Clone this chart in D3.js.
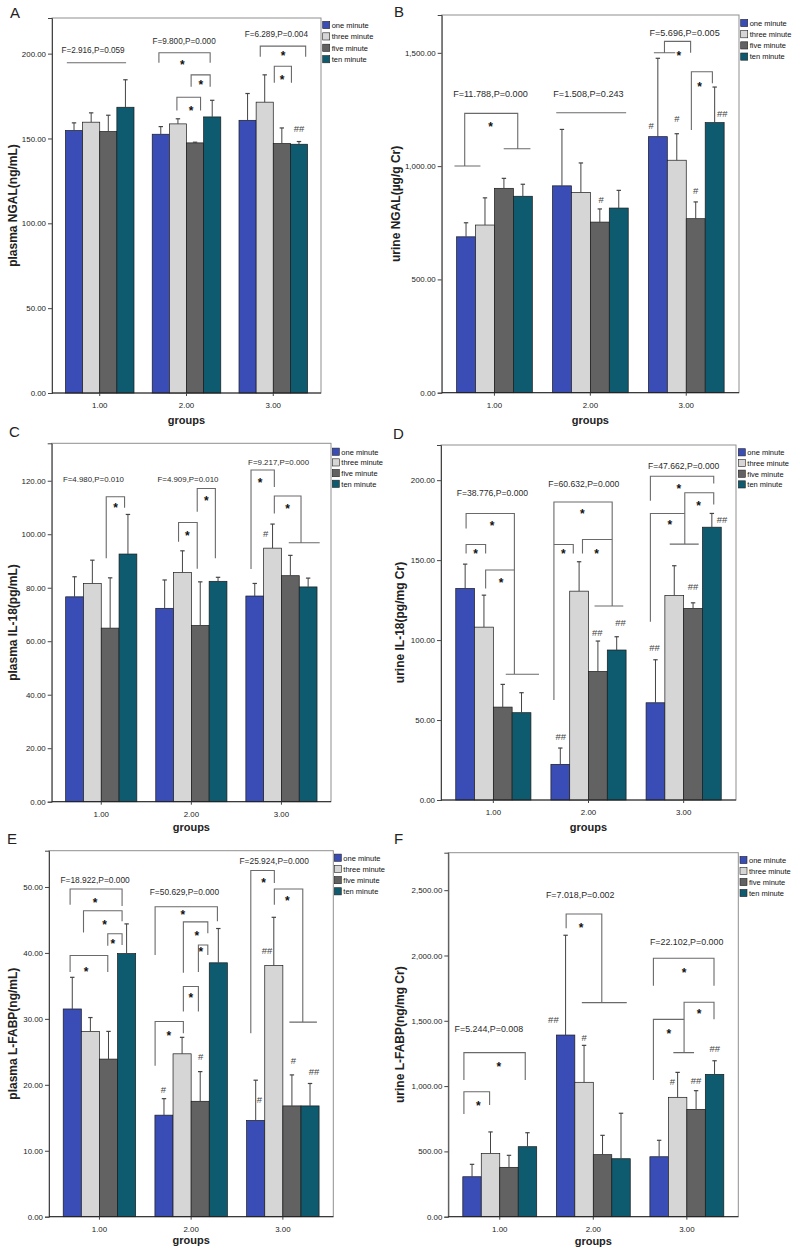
<!DOCTYPE html>
<html><head><meta charset="utf-8">
<script src="https://cdn.jsdelivr.net/npm/d3@7"></script>
<style>body{margin:0;background:#fff}svg{display:block;font-family:Arial,'Liberation Sans',sans-serif}</style>
</head><body><svg id="chart" width="800" height="1253"></svg>
<script>
// ---------- shared categories ----------
const groups = ["1.00", "2.00", "3.00"];
const seriesNames = ["one minute", "three minute", "five minute", "ten minute"];
const seriesColors = ["#3a4db6", "#d6d6d6", "#626262", "#0e5a6f"];

// ---------- A: plasma NGAL ----------
const aMean  = [[154.7,159.6,154.1,168.4],[152.5,158.6,147.4,162.7],[160.7,171.4,147.0,146.6]];
const aUpper = [[159.2,165.1,163.7,184.6],[157.0,161.6,147.8,172.5],[176.5,187.5,156.2,148.2]];
const aTicks = [0,50,100,150,200];
const aDomain = [0,221];
const aStats = [{g:0,b:1.11,v:201.9,t:"F=2.916,P=0.059"},{g:1,b:1.36,v:207.4,t:"F=9.800,P=0.000"},{g:2,b:1.68,v:211.7,t:"F=6.289,P=0.004"}];
const aBrackets = [
 {g:0,b1:-0.42,b2:3.04,top:194.6,l:194.6,r:194.6},
 {g:1,b1:-0.11,b2:2.88,top:200.5,l:194.6,r:194.6},
 {g:1,b1:1.77,b2:2.88,top:187.5,l:180.5,r:180.5},
 {g:1,b1:0.94,b2:2.32,top:174.3,l:166.5,r:166.5},
 {g:2,b1:0.74,b2:3.39,top:204.4,l:198.2,r:198.2},
 {g:2,b1:1.56,b2:2.56,top:192.6,l:182.8,r:182.8}];
const aStars = [{g:1,b:1.25,v:194.6},{g:1,b:2.34,v:183.2},{g:1,b:1.77,v:167.6},{g:2,b:2.07,v:200.1},{g:2,b:2.01,v:186.1}];
const aHashes = [{g:2,b:3,v:155.8,t:"##"}];

// ---------- B: urine NGAL ----------
const bMean  = [[688,740,902,867],[913,884,753,815],[1130,1026,768,1192]];
const bUpper = [[750,860,946,920],[1162,1014,811,893],[1476,1143,842,1349]];
const bTicks = [0,500,1000,1500];
const bDomain = [0,1667];
const bStats = [{g:0,b:1.29,v:1321,t:"F=11.788,P=0.000"},{g:1,b:1.40,v:1321,t:"F=1.508,P=0.243"},{g:2,b:1.41,v:1590,t:"F=5.696,P=0.005"}];
const bBrackets = [
 {g:0,b1:-0.07,b2:2.73,top:1233,l:1000.4,r:1076.8,lh:[-0.61,0.76],rh:[1.99,3.40]},
 {g:1,b1:-0.30,b2:3.39,top:1235.7,l:1235.7,r:1235.7},
 {g:2,b1:0.35,b2:1.73,top:1550.8,l:1500.4,r:1500.4,lh:[-0.21,0.92]},
 {g:2,b1:1.77,b2:2.88,top:1416.6,l:1159.3,r:1365.4}];
const bStars = [{g:0,b:1.29,v:1184.5},{g:2,b:1.11,v:1497.8},{g:2,b:2.20,v:1361}];
const bHashes = [{g:1,b:2.07,v:850,t:"#"},{g:2,b:-0.35,v:1177,t:"#"},{g:2,b:1.0,v:1208,t:"#"},{g:2,b:2.0,v:891,t:"#"},{g:2,b:3.40,v:1230,t:"##"}];

// ---------- C: plasma IL-18 ----------
const cMean  = [[76.6,81.6,64.9,92.6],[72.3,85.7,65.9,82.4],[76.9,94.8,84.5,80.3]];
const cUpper = [[84.1,90.3,83.7,107.4],[82.9,93.8,82.2,83.9],[81.6,103.8,92.1,83.6]];
const cTicks = [0,20,40,60,80,100,120];
const cDomain = [0,134];
const cStats = [{g:0,b:1.06,v:120.6,t:"F=4.980,P=0.010"},{g:1,b:1.31,v:120.6,t:"F=4.909,P=0.010"},{g:2,b:1.34,v:127.1,t:"F=9.217,P=0.000"}];
const cBrackets = [
 {g:0,b1:1.78,b2:2.81,top:114.0,l:91.0,r:109.9},
 {g:1,b1:0.78,b2:1.83,top:104.4,l:97.2,r:87.1},
 {g:1,b1:1.83,b2:2.85,top:117.1,l:108.4,r:91.0},
 {g:2,b1:-0.21,b2:1.10,top:124.0,l:87.0,r:117.7},
 {g:2,b1:1.10,b2:2.60,top:114.3,l:107.8,r:96.8,rh:[1.91,3.65]}];
const cStars = [{g:0,b:2.30,v:110.6},{g:1,b:1.27,v:100.3},{g:1,b:2.34,v:113.3},{g:2,b:0.30,v:120.3},{g:2,b:1.85,v:110.5}];
const cHashes = [{g:2,b:0.61,v:100.3,t:"#"}];

// ---------- D: urine IL-18 ----------
const dMean  = [[132.3,108.1,58.1,54.6],[22.3,130.6,80.4,93.8],[60.8,127.9,119.8,170.6]];
const dUpper = [[147.5,128.1,72.3,67.1],[32.5,149.0,99.4,102.1],[87.7,146.5,123.3,179.2]];
const dTicks = [0,50,100,150,200];
const dDomain = [0,222];
const dStats = [{g:0,b:1.45,v:192.1,t:"F=38.776,P=0.000"},{g:1,b:1.25,v:197.5,t:"F=60.632,P=0.000"},{g:2,b:1.50,v:208.8,t:"F=47.662,P=0.000"}];
const dBrackets = [
 {g:0,b1:0.05,b2:2.62,top:179.2,l:169.8,r:78.6,rh:[2.16,3.93]},
 {g:0,b1:0.05,b2:1.09,top:159.8,l:154.2,r:154.2},
 {g:0,b1:1.09,b2:2.62,top:143.8,l:132.3,r:null},
 {g:1,b1:-0.34,b2:2.76,top:186.4,l:62.5,r:121.3,rh:[1.82,3.35]},
 {g:1,b1:-0.34,b2:0.69,top:159.8,l:null,r:154.2},
 {g:1,b1:1.18,b2:2.76,top:162.9,l:154.2,r:null},
 {g:2,b1:-0.27,b2:3.10,top:202.5,l:187.1,r:197.9},
 {g:2,b1:1.56,b2:3.10,top:192.1,l:160.0,r:184.8,lh:[0.76,2.30]},
 {g:2,b1:-0.27,b2:1.56,top:179.2,l:111.4,r:null}];
const dStars = [{g:0,b:1.43,v:172.9},{g:0,b:0.56,v:155.6},{g:0,b:1.91,v:137.5},{g:1,b:1.17,v:180.2},{g:1,b:0.16,v:155.6},{g:1,b:1.93,v:155.6},{g:2,b:1.24,v:196.4},{g:2,b:2.30,v:185.4},{g:2,b:0.76,v:173.3}];
const dHashes = [{g:1,b:0.02,v:39.6,t:"##"},{g:1,b:1.97,v:104.6,t:"##"},{g:1,b:3.20,v:111.1,t:"##"},{g:2,b:-0.05,v:95.2,t:"##"},{g:2,b:2.00,v:133.3,t:"##"},{g:2,b:3.54,v:175.4,t:"##"}];

// ---------- E: plasma L-FABP ----------
const eMean  = [[31.5,28.1,23.9,39.9],[15.4,24.7,17.5,38.5],[14.6,38.1,16.8,16.8]];
const eUpper = [[36.3,30.2,28.1,44.4],[17.9,27.2,22.0,43.7],[20.7,45.4,21.5,20.2]];
const eTicks = [0,10,20,30,40,50];
const eDomain = [0,55.5];
const eStats = [{g:0,b:1.26,v:51.0,t:"F=18.922,P=0.000"},{g:1,b:1.13,v:49.2,t:"F=50.629,P=0.000"},{g:2,b:1.02,v:54.0,t:"F=25.924,P=0.000"}];
const eBrackets = [
 {g:0,b1:-0.12,b2:2.75,top:49.7,l:47.3,r:47.1},
 {g:0,b1:0.62,b2:2.75,top:46.4,l:43.1,r:44.8},
 {g:0,b1:1.96,b2:2.75,top:42.9,l:41.1,r:41.2},
 {g:0,b1:-0.12,b2:1.96,top:39.6,l:37.1,r:37.1},
 {g:1,b1:-0.49,b2:2.95,top:47.0,l:39.7,r:44.8},
 {g:1,b1:1.07,b2:2.42,top:44.7,l:37.0,r:43.0},
 {g:1,b1:1.90,b2:2.42,top:41.2,l:37.1,r:39.7},
 {g:1,b1:1.07,b2:1.90,top:34.9,l:31.1,r:31.1},
 {g:1,b1:-0.49,b2:1.07,top:29.6,l:22.9,r:27.8},
 {g:2,b1:-0.27,b2:1.03,top:52.5,l:27.8,r:50.6},
 {g:2,b1:1.03,b2:2.60,top:49.7,l:47.3,r:29.5,rh:[1.86,3.38]}];
const eStars = [{g:0,b:1.26,v:47.95},{g:0,b:1.78,v:44.6},{g:0,b:2.24,v:41.7},{g:0,b:0.76,v:37.5},{g:1,b:1.04,v:46.2},{g:1,b:1.81,v:43.0},{g:1,b:2.03,v:40.5},{g:1,b:1.48,v:33.6},{g:1,b:0.27,v:27.8},{g:2,b:0.43,v:51.0},{g:2,b:1.75,v:48.2}];
const eHashes = [{g:1,b:-0.03,v:19.3,t:"#"},{g:1,b:2.03,v:24.3,t:"#"},{g:2,b:0.21,v:17.8,t:"#"},{g:2,b:0.62,v:40.3,t:"##"},{g:2,b:2.08,v:23.6,t:"#"},{g:2,b:3.22,v:22.0,t:"##"}];

// ---------- F: urine L-FABP ----------
const fMean  = [[306,485,378,536],[1391,1029,475,444],[459,914,822,1090]];
const fUpper = [[401,649,470,643],[2155,1312,623,792],[585,1105,965,1194]];
const fTicks = [0,500,1000,1500,2000,2500];
const fDomain = [0,2787];
const fStats = [{g:0,b:0.91,v:1435,t:"F=5.244,P=0.008"},{g:1,b:0.79,v:2463,t:"F=7.018,P=0.002"},{g:2,b:1.49,v:2101,t:"F=22.102,P=0.000"}];
const fBrackets = [
 {g:0,b1:-0.44,b2:2.88,top:1256,l:1047,r:1047},
 {g:0,b1:-0.44,b2:0.95,top:957,l:786,r:855},
 {g:1,b1:0.03,b2:1.96,top:2318,l:2208,r:1639,rh:[0.88,3.31]},
 {g:2,b1:-0.31,b2:2.97,top:1979,l:1769,r:1769},
 {g:2,b1:1.35,b2:2.97,top:1642,l:1256,r:1511,lh:[0.77,1.89]},
 {g:2,b1:-0.31,b2:1.35,top:1511,l:1047,r:null}];
const fStars = [{g:0,b:1.45,v:1167},{g:0,b:0.34,v:868},{g:1,b:0.84,v:2234},{g:2,b:1.35,v:1889},{g:2,b:2.16,v:1570},{g:2,b:0.53,v:1422}];
const fHashes = [{g:1,b:-0.66,v:1511,t:"##"},{g:1,b:1.0,v:1374,t:"#"},{g:2,b:0.72,v:1034,t:"#"},{g:2,b:2.0,v:1041,t:"##"},{g:2,b:3.01,v:1284,t:"##"}];

// ---------- layout (positions/styles only) ----------
const panels = [
 {letter:"A", title:"plasma NGAL(ng/mL)", mean:aMean, upper:aUpper, ticks:aTicks, domain:aDomain, stats:aStats, brackets:aBrackets, stars:aStars, hashes:aHashes,
  fr:[52,321,18,393], let:[10,18], tx:17, xty:424, lg:[322.7,25,11.4], sf:8.2},
 {letter:"B", title:"urine NGAL(µg/g Cr)", mean:bMean, upper:bUpper, ticks:bTicks, domain:bDomain, stats:bStats, brackets:bBrackets, stars:bStars, hashes:bHashes,
  fr:[441.7,739,15,392.7], let:[394,17], tx:399.5, xty:424, lg:[740.7,23,11.2], sf:9.1},
 {letter:"C", title:"plasma IL-18(pg/mL)", mean:cMean, upper:cUpper, ticks:cTicks, domain:cDomain, stats:cStats, brackets:cBrackets, stars:cStars, hashes:cHashes,
  fr:[51.7,331,443.3,801.7], let:[9,437], tx:17, xty:830.5, lg:[332.3,451.7,10.7], sf:7.9},
 {letter:"D", title:"urine IL-18(pg/mg Cr)", mean:dMean, upper:dUpper, ticks:dTicks, domain:dDomain, stats:dStats, brackets:dBrackets, stars:dStars, hashes:dHashes,
  fr:[441,736,445,800], let:[393,439], tx:403.5, xty:830.5, lg:[738.3,452.3,10.7], sf:8.6},
 {letter:"E", title:"plasma L-FABP(ng/mL)", mean:eMean, upper:eUpper, ticks:eTicks, domain:eDomain, stats:eStats, brackets:eBrackets, stars:eStars, hashes:eHashes,
  fr:[49,333.3,850.7,1216.7], let:[7,844], tx:17, xty:1244, lg:[334.3,857.7,11.2], sf:8.4},
 {letter:"F", title:"urine L-FABP(ng/mg Cr)", mean:fMean, upper:fUpper, ticks:fTicks, domain:fDomain, stats:fStats, brackets:fBrackets, stars:fStars, hashes:fHashes,
  fr:[448.3,738.3,852.7,1216.7], let:[394,844], tx:403.5, xty:1245, lg:[740,860,11], sf:8.9}
];

const svg = d3.select("#chart");
const fmt = d3.format(",.2f");

function drawPanel(p) {
  const [x0,x1,y0,y1] = p.fr;
  const g = svg.append("g");
  const x = d3.scaleBand().domain(groups).range([x0,x1]).paddingInner(0.21).paddingOuter(0.155);
  const xs = d3.scaleBand().domain(seriesNames).range([0, x.bandwidth()]);
  const y = d3.scaleLinear().domain(p.domain).range([y1,y0]);
  const bx = (gi,b) => x(groups[gi]) + xs.step()*(b+0.5);

  // frame
  g.append("rect").attr("x",x0).attr("y",y0).attr("width",x1-x0).attr("height",y1-y0)
    .attr("fill","#fff").attr("stroke","#8f8f8f").attr("stroke-width",1);

  // bars + error bars
  p.mean.forEach((row,gi) => {
    row.forEach((v,si) => {
      g.append("rect")
        .attr("x", x(groups[gi]) + xs(seriesNames[si]))
        .attr("y", y(v)).attr("width", xs.bandwidth()).attr("height", y(0)-y(v))
        .attr("fill", seriesColors[si]).attr("stroke","#1a1a1a").attr("stroke-width",0.7);
      const cx = x(groups[gi]) + xs(seriesNames[si]) + xs.bandwidth()/2;
      const up = p.upper[gi][si];
      g.append("line").attr("x1",cx).attr("x2",cx).attr("y1",y(v)).attr("y2",y(up))
        .attr("stroke","#444").attr("stroke-width",1);
      g.append("line").attr("x1",cx-2.2).attr("x2",cx+2.2).attr("y1",y(up)).attr("y2",y(up))
        .attr("stroke","#444").attr("stroke-width",1.2);
    });
  });

  // axes
  const ya = g.append("g").attr("transform",`translate(${x0},0)`)
    .call(d3.axisLeft(y).tickValues(p.ticks).tickFormat(fmt).tickSize(4).tickPadding(2));
  ya.select(".domain").attr("stroke","#444");
  ya.selectAll(".tick line").attr("stroke","#444");
  ya.selectAll("text").attr("font-size",7.9).attr("fill","#222").attr("font-family","Arial,'Liberation Sans',sans-serif");

  const xa = g.append("g").attr("transform",`translate(0,${y1})`)
    .call(d3.axisBottom(x).tickSize(3).tickPadding(6.8));
  xa.select(".domain").attr("stroke","#222").attr("d",`M${x0},0H${x1}`);
  xa.selectAll(".tick line").attr("stroke","#444");
  xa.selectAll("text").attr("font-size",7.9).attr("fill","#222").attr("font-family","Arial,'Liberation Sans',sans-serif");

  // titles
  g.append("text").attr("x",(x0+x1)/2).attr("y",p.xty).attr("text-anchor","middle")
    .attr("font-size",11).attr("font-weight","bold").attr("fill","#222").text("groups");
  g.append("text").attr("transform",`translate(${p.tx},${(y0+y1)/2}) rotate(-90)`)
    .attr("text-anchor","middle").attr("font-size",12).attr("font-weight","bold").attr("fill","#222").text(p.title);
  g.append("text").attr("x",p.let[0]).attr("y",p.let[1]).attr("font-size",15).attr("fill","#222").text(p.letter);

  // legend
  const [lx,ly,ldy] = p.lg;
  seriesNames.forEach((s,i) => {
    g.append("rect").attr("x",lx).attr("y",ly+i*ldy-3.6).attr("width",7).attr("height",7.2)
      .attr("fill",seriesColors[i]).attr("stroke","#222").attr("stroke-width",0.6);
    g.append("text").attr("x",lx+9).attr("y",ly+i*ldy+2.8).attr("font-size",7.5).attr("fill","#111").text(s);
  });

  // annotations
  p.brackets.forEach(bk => {
    const xl = bx(bk.g,bk.b1), xr = bx(bk.g,bk.b2), yt = y(bk.top);
    let d = bk.l != null ? `M${xl},${y(bk.l)}V${yt}` : `M${xl},${yt}`;
    d += `H${xr}`;
    if (bk.r != null) d += `V${y(bk.r)}`;
    if (bk.lh) d += `M${bx(bk.g,bk.lh[0])},${y(bk.l)}H${bx(bk.g,bk.lh[1])}`;
    if (bk.rh) d += `M${bx(bk.g,bk.rh[0])},${y(bk.r)}H${bx(bk.g,bk.rh[1])}`;
    g.append("path").attr("d",d).attr("fill","none").attr("stroke","#6a6a6a").attr("stroke-width",1.1);
  });
  p.stats.forEach(s => {
    g.append("text").attr("x",bx(s.g,s.b)).attr("y",y(s.v)).attr("dy","0.35em").attr("text-anchor","middle")
      .attr("font-size",p.sf).attr("fill","#2a2a2a").text(s.t);
  });
  p.stars.forEach(s => {
    g.append("text").attr("x",bx(s.g,s.b)).attr("y",y(s.v)).attr("dy","0.55em").attr("text-anchor","middle")
      .attr("font-size",12).attr("font-weight","bold").attr("fill","#111").text("*");
  });
  p.hashes.forEach(s => {
    g.append("text").attr("x",bx(s.g,s.b)).attr("y",y(s.v)).attr("dy","0.35em").attr("text-anchor","middle")
      .attr("font-size",9.5).attr("fill","#444").text(s.t);
  });
}

panels.forEach(drawPanel);
</script>
</body></html>
